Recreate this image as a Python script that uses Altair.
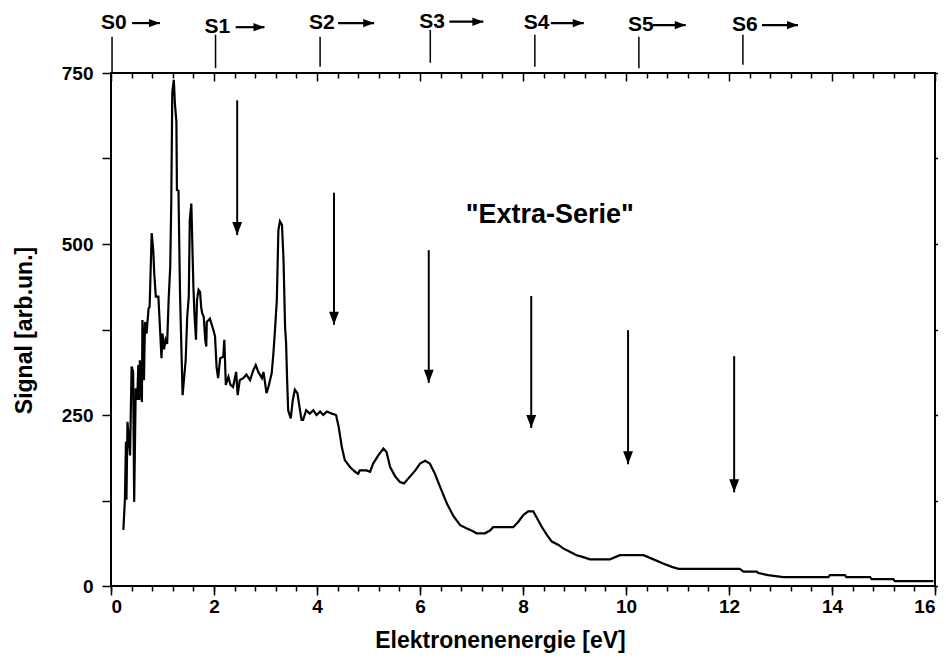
import altair as alt
import pandas as pd

# ---------------- data ----------------
energy = [0.24, 0.27, 0.29, 0.30, 0.32, 0.37, 0.40, 0.43, 0.45, 0.48, 0.51, 0.53, 0.55, 0.56,
          0.60, 0.61, 0.64, 0.66, 0.69, 0.73, 0.75, 0.79, 0.82, 0.84, 0.87, 0.92, 0.95, 0.98,
          1.00, 1.03, 1.06, 1.09, 1.12, 1.15, 1.17, 1.19, 1.22, 1.24, 1.27, 1.28, 1.31, 1.34,
          1.39, 1.45, 1.48, 1.51, 1.53, 1.56, 1.60, 1.62, 1.65, 1.67, 1.70, 1.73, 1.75, 1.77,
          1.80, 1.83, 1.85, 1.86, 1.92, 1.99, 2.02, 2.05, 2.08, 2.12, 2.18, 2.20, 2.23, 2.28,
          2.32, 2.37, 2.43, 2.46, 2.50, 2.57, 2.63, 2.70, 2.76, 2.81, 2.86, 2.93, 2.96, 3.02,
          3.06, 3.12, 3.15, 3.18, 3.22, 3.25, 3.28, 3.32, 3.35, 3.38, 3.40, 3.42, 3.44, 3.49,
          3.53, 3.57, 3.62, 3.66, 3.70, 3.73, 3.79, 3.86, 3.93, 3.99, 4.06, 4.12, 4.19, 4.29,
          4.37, 4.42, 4.48, 4.54, 4.64, 4.74, 4.80, 4.83, 4.96, 5.03, 5.09, 5.19, 5.29, 5.35,
          5.42, 5.52, 5.61, 5.69, 5.77, 5.91, 6.00, 6.10, 6.19, 6.29, 6.39, 6.52, 6.65, 6.78,
          6.91, 7.00, 7.10, 7.26, 7.36, 7.42, 7.81, 7.91, 8.01, 8.10, 8.20, 8.26, 8.36, 8.46,
          8.56, 8.69, 8.78, 8.91, 9.04, 9.14, 9.30, 9.69, 9.88, 10.34, 10.50, 10.72, 10.89,
          11.02, 12.21, 12.28, 12.54, 12.57, 12.76, 13.05, 13.93, 13.96, 14.25, 14.28, 14.74,
          14.77, 15.19, 15.22, 15.97]
signal = [82, 126, 211, 126, 240, 191, 321, 313, 123, 289, 272, 323, 272, 330,
          269, 389, 301, 386, 369, 406, 408, 516, 491, 457, 423, 423, 379, 333,
          369, 346, 360, 354, 420, 467, 560, 722, 740, 706, 679, 579, 578, 428,
          279, 330, 394, 423, 535, 559, 437, 398, 360, 418, 433, 430, 408, 399,
          394, 360, 350, 386, 391, 374, 365, 320, 304, 333, 335, 360, 294, 306,
          294, 291, 313, 279, 301, 304, 309, 301, 315, 323, 313, 304, 313, 282,
          292, 311, 337, 369, 418, 520, 533, 528, 477, 379, 355, 301, 257, 245,
          272, 287, 282, 262, 243, 243, 257, 252, 257, 250, 255, 250, 255, 252,
          250, 233, 204, 184, 174, 167, 164, 169, 169, 167, 179, 191, 201, 196,
          174, 160, 152, 150, 157, 169, 179, 183, 179, 164, 145, 121, 102, 89,
          84, 81, 77, 77, 81, 86, 86, 94, 104, 109, 109, 101, 87, 75,
          65, 60, 55, 50, 45, 43, 39, 39, 45, 45, 40, 33, 28,
          25, 25, 21, 21, 19, 16, 13, 13, 16, 16, 13, 13,
          10, 10, 7, 7]

# series thresholds S0..S6 (top)
s_names = ["S0", "S1", "S2", "S3", "S4", "S5", "S6"]
s_energy = [0.02, 2.03, 4.06, 6.20, 8.23, 10.25, 12.27]
s_line_low = [750, 757, 759, 765, 759, 757, 762]
s_line_high = [803, 806, 803, 813, 806, 803, 806]
s_label_y = [823, 817, 823, 825, 823, 820, 820]
s_arrow_from = [0.41, 2.42, 4.41, 6.57, 8.54, 10.52, 12.64]
s_arrow_to = [0.95, 2.98, 5.11, 7.23, 9.18, 11.16, 13.34]

# "Extra-Serie" arrows inside the plot
ex_energy = [2.45, 4.33, 6.17, 8.16, 10.04, 12.10]
ex_top = [710, 575, 491, 424, 374, 336]
ex_tip = [513, 382, 297, 231, 178, 137]

note_text = ['"Extra-Serie"']
note_energy = [8.52]
note_signal = [542]

x_major = [0, 2, 4, 6, 8, 10, 12, 14, 16]
x_minor = [round(0.4 * i, 1) for i in range(41)]
y_ticks = [0, 125, 250, 375, 500, 625, 750]

FONT = "Liberation Sans, Arial, sans-serif"

# ---------------- tables ----------------
curve = pd.DataFrame({"E": energy, "S": signal})
sdf = pd.DataFrame({"name": s_names, "E": s_energy, "lo": s_line_low, "hi": s_line_high,
                    "ly": s_label_y, "a0": s_arrow_from, "a1": s_arrow_to})
exdf = pd.DataFrame({"E": ex_energy, "top": ex_top, "tip": ex_tip})
notedf = pd.DataFrame({"t": note_text, "E": note_energy, "S": note_signal})

xs = alt.Scale(domain=[0, 16], nice=False, zero=False)
ys = alt.Scale(domain=[0, 750], nice=False, zero=False)

# main curve with bottom (labelled) and left axes
line = alt.Chart(curve).mark_line(color="black", strokeWidth=2.2, interpolate="linear").encode(
    x=alt.X("E:Q", scale=xs, axis=alt.Axis(
        orient="bottom", values=x_major, title="Elektronenenergie  [eV]", format="d",
        tickSize=9, tickWidth=1.5, tickColor="black", domain=False, grid=False,
        labelFont=FONT, labelFontSize=19, labelFontWeight="bold", labelColor="black",
        labelPadding=2, titleFont=FONT, titleFontSize=23, titleFontWeight="bold",
        titleColor="black", titleX=389, titleY=54, titleBaseline="middle")),
    y=alt.Y("S:Q", scale=ys, axis=alt.Axis(
        orient="left", values=y_ticks, title="Signal [arb.un.]",
        labelExpr="datum.value % 250 === 0 ? datum.label : ''",
        tickSize=9, tickWidth=1.5, tickColor="black", domain=False, grid=False,
        labelFont=FONT, labelFontSize=19, labelFontWeight="bold", labelColor="black",
        labelPadding=9, titleFont=FONT, titleFontSize=23, titleFontWeight="bold",
        titleColor="black", titleX=-87, titleY=257, titleAngle=270, titleBaseline="middle")),
)

# arrow shafts inside the plot (bottom minor ticks, right ticks)
shafts = alt.Chart(exdf).mark_rule(color="black", strokeWidth=2).encode(
    x=alt.X("E:Q", scale=xs, axis=alt.Axis(
        orient="bottom", values=x_minor, labels=False, title=None, tickSize=5,
        tickWidth=1.5, tickColor="black", domain=False, grid=False)),
    y=alt.Y("top:Q", scale=ys, axis=alt.Axis(
        orient="right", values=y_ticks, labels=False, title=None, tickSize=6,
        tickWidth=1.5, tickColor="black", domain=False, grid=False)),
    y2="tip:Q",
)

DOWN = "M -0.38 -1 L 0 0 L 0.38 -1 Z"
RIGHT = "M -1 -0.38 L 0 0 L -1 0.38 Z"

# arrow heads; this layer's grid (dashed, only its first pixels) gives the inward top ticks
heads = alt.Chart(exdf).mark_point(shape=DOWN, filled=True, size=676, color="black",
                                   opacity=1, strokeWidth=0).encode(
    x=alt.X("E:Q", scale=xs, axis=alt.Axis(
        orient="bottom", values=x_minor, labels=False, title=None, ticks=False,
        domain=False, grid=True, gridColor="black", gridWidth=1.5, gridOpacity=1,
        gridDash={"condition": {"test": "abs(datum.value - round(datum.value / 2) * 2) < 0.001",
                                "value": [8, 2000]}, "value": [5, 2000]})),
    y=alt.Y("tip:Q", scale=ys, axis=None),
)

s_lines = alt.Chart(sdf).mark_rule(color="black", strokeWidth=1.5).encode(
    x=alt.X("E:Q", scale=xs, axis=None),
    y=alt.Y("lo:Q", scale=ys, axis=None),
    y2="hi:Q",
)
s_text = alt.Chart(sdf).mark_text(align="left", baseline="middle", dx=-11, font=FONT,
                                  fontSize=21, fontWeight="bold", color="black").encode(
    x=alt.X("E:Q", scale=xs, axis=None),
    y=alt.Y("ly:Q", scale=ys, axis=None),
    text="name:N",
)
s_arrow = alt.Chart(sdf).mark_rule(color="black", strokeWidth=2.2).encode(
    x=alt.X("a0:Q", scale=xs, axis=None),
    x2="a1:Q",
    y=alt.Y("ly:Q", scale=ys, axis=None),
)
s_head = alt.Chart(sdf).mark_point(shape=RIGHT, filled=True, size=484, color="black",
                                   opacity=1, strokeWidth=0).encode(
    x=alt.X("a1:Q", scale=xs, axis=None),
    y=alt.Y("ly:Q", scale=ys, axis=None),
)

note = alt.Chart(notedf).mark_text(align="center", baseline="middle", font=FONT,
                                   fontSize=27, fontWeight="bold", color="black").encode(
    x=alt.X("E:Q", scale=xs, axis=None),
    y=alt.Y("S:Q", scale=ys, axis=None),
    text="t:N",
)

chart = alt.layer(line, shafts, heads, s_lines, s_text, s_arrow, s_head, note).resolve_axis(
    x="independent", y="independent"
).properties(
    width=824, height=513,
    autosize=alt.AutoSizeParams(type="none"),
    padding={"left": 103, "top": 65, "right": 3, "bottom": 70},
    background="white",
).configure_view(stroke="black", strokeWidth=2)

chart.save("out.html", embed_options={"renderer": "svg", "actions": False})
